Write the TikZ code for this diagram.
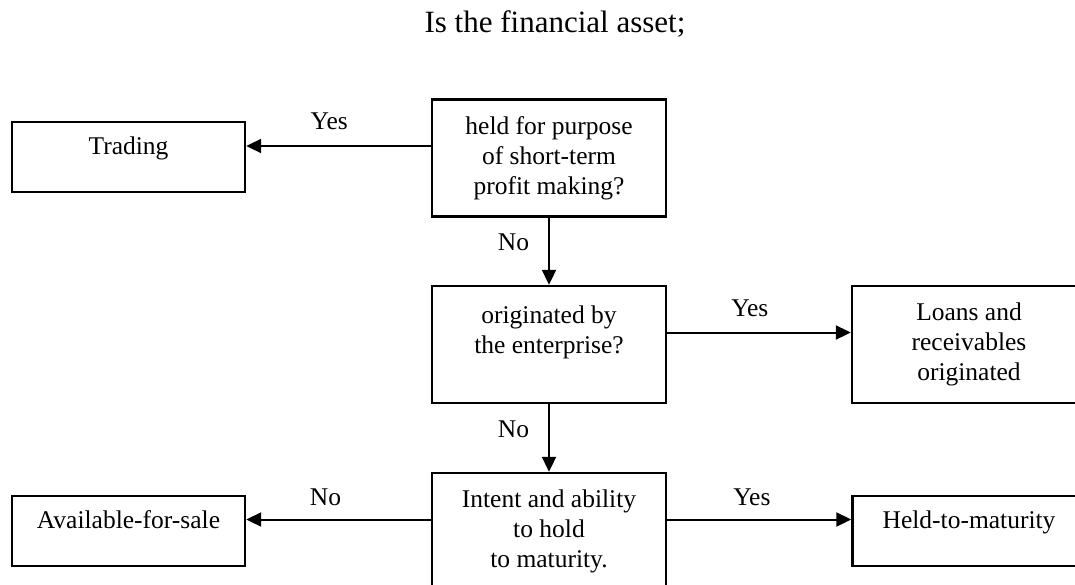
\documentclass[tikz,border=0pt]{standalone}
\usepackage{fontspec}
\setmainfont{Liberation Serif}
\usetikzlibrary{arrows.meta}
\begin{document}
\begin{tikzpicture}[x=1pt, y=-1pt, every node/.style = {font=\fontsize{25.5}{30}\selectfont, align=center}]
	\tikzset{ decision/.style = {draw, line width=2.4pt, minimum width=234pt, minimum height=117pt, inner sep=0pt} }
	\tikzset{ result/.style = {draw, line width=2.4pt, minimum width=233pt, minimum height=70pt, inner sep=0pt, text height=18pt, text depth=24pt} }
	\tikzset{ flow/.style = {line width=2pt, -{Triangle[length=15pt, width=14pt]}} }
	\tikzset{ answer/.style = {inner sep=0pt} }
	\useasboundingbox (0,0) rectangle (1075,584);
	\node (title) at (555,24) {\fontsize{31}{36}\selectfont Is the financial asset;};
	% questions
	\node [decision] (q1) at (549,158) {held for purpose\\of short-term\\profit making?};
	\node [decision] (q2) at (549,344.5) {originated by\\the enterprise?\\\mbox{}};
	\node [decision] (q3) at (549,531.5) {Intent and ability\\to hold\\to maturity.};
	% categories
	\node [result] (trading) at (128.5,157) {Trading};
	\node [decision] (loans) at (969,344.5) {Loans and\\receivables\\originated};
	\node [result] (afs) at (128.5,531) {Available-for-sale};
	\node [result] (htm) at (969,531) {Held-to-maturity};
	% arrows
	\draw [flow] ([yshift=12pt]q1.west) -- ([yshift=12pt]q1.west -| trading.east)
		node [answer, pos=0.55, above=15pt] {Yes};
	\draw [flow] (q1.south) -- (q2.north)
		node [answer, pos=0.37, left=19pt] {No};
	\draw [flow] ([yshift=12pt]q2.east) -- ([yshift=12pt]q2.east -| loans.west)
		node [answer, pos=0.45, above=15pt] {Yes};
	\draw [flow] (q2.south) -- (q3.north)
		node [answer, pos=0.37, left=19pt] {No};
	\draw [flow] ([yshift=12pt]q3.west) -- ([yshift=12pt]q3.west -| afs.east)
		node [answer, pos=0.57, above=13pt] {No};
	\draw [flow] ([yshift=12pt]q3.east) -- ([yshift=12pt]q3.east -| htm.west)
		node [answer, pos=0.46, above=13pt] {Yes};
\end{tikzpicture}
\end{document}
